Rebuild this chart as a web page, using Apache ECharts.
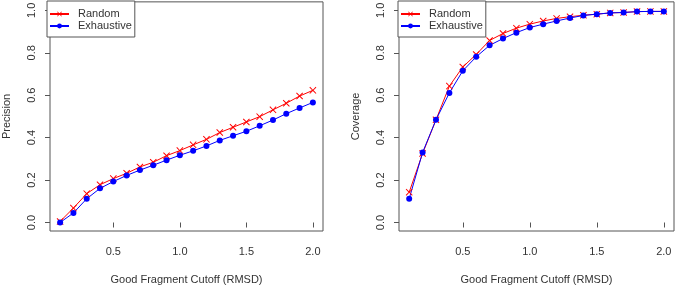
<!DOCTYPE html>
<html>
<head>
<meta charset="utf-8">
<script src="https://cdn.jsdelivr.net/npm/echarts@6/dist/echarts.min.js"></script>
<style>
  html, body { margin: 0; padding: 0; background: #fff; }
  #chart { width: 676px; height: 290px; }
</style>
</head>
<body>
<div id="chart"></div>
<script>
// cutoffs (RMSD)
const cutoffs = [0.1, 0.2, 0.3, 0.4, 0.5, 0.6, 0.7, 0.8, 0.9, 1.0,
                 1.1, 1.2, 1.3, 1.4, 1.5, 1.6, 1.7, 1.8, 1.9, 2.0];

const precisionRandom = [0.005, 0.068, 0.136, 0.178, 0.207, 0.232, 0.262, 0.284, 0.315, 0.339,
                         0.366, 0.392, 0.424, 0.449, 0.474, 0.499, 0.531, 0.562, 0.596, 0.623];
const precisionExhaustive = [0.0, 0.045, 0.112, 0.161, 0.193, 0.222, 0.247, 0.270, 0.294, 0.317,
                             0.338, 0.361, 0.387, 0.409, 0.430, 0.456, 0.483, 0.513, 0.540, 0.566];

const coverageRandom = [0.143, 0.325, 0.484, 0.643, 0.733, 0.792, 0.858, 0.891, 0.916, 0.935,
                        0.950, 0.962, 0.970, 0.977, 0.982, 0.988, 0.990, 0.994, 0.995, 0.995];
const coverageExhaustive = [0.112, 0.330, 0.484, 0.611, 0.715, 0.781, 0.835, 0.867, 0.895, 0.919,
                            0.935, 0.950, 0.964, 0.976, 0.982, 0.988, 0.990, 0.994, 0.995, 0.995];

const xTicks = [0.5, 1.0, 1.5, 2.0];
const yTicks = [0.0, 0.2, 0.4, 0.6, 0.8, 1.0];

const xName = 'Good Fragment Cutoff (RMSD)';
const yNames = ['Precision', 'Coverage'];

const FONT = 'Liberation Sans, Arial, sans-serif';
const AXIS = '#555';
const TEXT = '#333';
const crossPath = 'path://M0,1L1,0L5,4L9,0L10,1L6,5L10,9L9,10L5,6L1,10L0,9L4,5Z';

const pair = arr => arr.map((v, i) => [cutoffs[i], v]);

function xAxisFor(idx) {
  return {
    type: 'value', gridIndex: idx, min: 0.024, max: 2.076,
    name: xName, nameLocation: 'middle', nameGap: 43,
    nameTextStyle: { fontFamily: FONT, fontSize: 11, color: TEXT },
    axisLine: { show: false },
    splitLine: { show: false },
    axisTick: { show: true, length: 5, customValues: xTicks, lineStyle: { color: AXIS } },
    axisLabel: { customValues: xTicks, margin: 15, fontFamily: FONT, fontSize: 11, color: TEXT,
                 formatter: v => v.toFixed(1) }
  };
}

function yAxisFor(idx) {
  return {
    type: 'value', gridIndex: idx, min: -0.04, max: 1.04,
    name: yNames[idx], nameLocation: 'middle', nameGap: 38, nameRotate: 90,
    nameTextStyle: { fontFamily: FONT, fontSize: 11, color: TEXT },
    axisLine: { show: false },
    splitLine: { show: false },
    axisTick: { show: true, length: 5, customValues: yTicks, lineStyle: { color: AXIS } },
    axisLabel: { customValues: yTicks, rotate: 90, margin: 13, fontFamily: FONT, fontSize: 11, color: TEXT,
                 formatter: v => v.toFixed(1) }
  };
}

function legendFor(left) {
  return {
    data: ['Random', 'Exhaustive'],
    orient: 'vertical', left: left, top: 1,
    padding: [7, 3, 5, 2], itemGap: 0,
    itemWidth: 19, itemHeight: 6,
    borderColor: AXIS, borderWidth: 1, backgroundColor: '#fff',
    textStyle: { fontFamily: FONT, fontSize: 11, color: TEXT, lineHeight: 12, padding: [0, 0, 0, 4] },
    selectedMode: false
  };
}

function seriesFor(idx, rnd, exh) {
  return [
    {
      name: 'Random', type: 'line', xAxisIndex: idx, yAxisIndex: idx,
      data: pair(rnd), symbol: crossPath, symbolSize: 7,
      lineStyle: { color: '#ff0000', width: 1 },
      itemStyle: { color: '#ff0000' }, animation: false
    },
    {
      name: 'Exhaustive', type: 'line', xAxisIndex: idx, yAxisIndex: idx,
      data: pair(exh), symbol: 'circle', symbolSize: 6,
      lineStyle: { color: '#0000ff', width: 1 },
      itemStyle: { color: '#0000ff' }, animation: false
    }
  ];
}

const chart = echarts.init(document.getElementById('chart'), null, { renderer: 'canvas' });
chart.setOption({
  animation: false,
  grid: [
    { left: 48, top: 1, width: 275, height: 238, show: true, borderColor: AXIS, borderWidth: 1, containLabel: false },
    { left: 399, top: 1, width: 275, height: 238, show: true, borderColor: AXIS, borderWidth: 1, containLabel: false }
  ],
  legend: [legendFor(47), legendFor(398)],
  xAxis: [xAxisFor(0), xAxisFor(1)],
  yAxis: [yAxisFor(0), yAxisFor(1)],
  series: [].concat(seriesFor(0, precisionRandom, precisionExhaustive),
                    seriesFor(1, coverageRandom, coverageExhaustive))
});
</script>
</body>
</html>
